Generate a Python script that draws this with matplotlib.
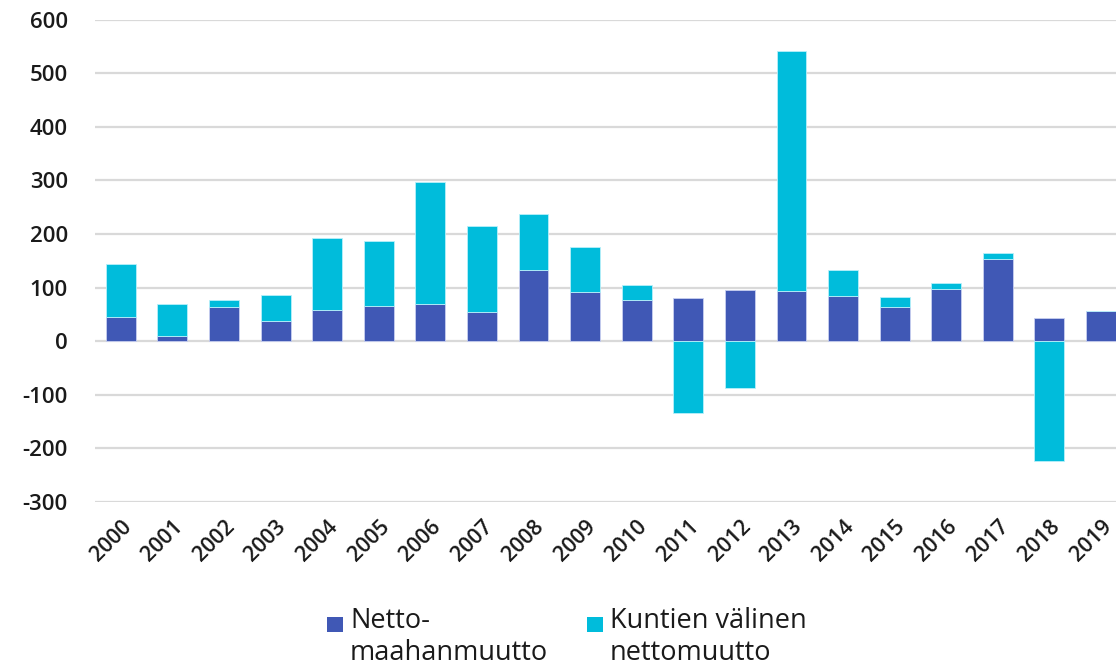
import matplotlib.pyplot as plt
import numpy as np
from matplotlib.patches import Rectangle

years = [str(y) for y in range(2000, 2020)]
netto_maahanmuutto = [46, 10, 64, 38, 58, 66, 69, 54, 133, 91, 77, 80, 96, 94, 85, 63, 97, 153, 44, 57]
kuntien_valinen = [98, 59, 13, 48, 134, 121, 227, 160, 104, 84, 28, -134, -88, 447, 48, 20, 11, 12, -224, 0]
legend_lines = [['Netto-', 'maahanmuutto'], ['Kuntien välinen', 'nettomuutto']]

dark = '#4058b5'
cyan = '#00bcdb'

plt.rcParams['font.family'] = ['Open Sans', 'DejaVu Sans']

W, H = 1116, 672
fig = plt.figure(figsize=(W / 100, H / 100), dpi=100)
ax = fig.add_axes([95 / W, (H - 502) / H, (W - 95) / W, (502 - 19.5) / H])

x = np.arange(len(years))
net = np.array(netto_maahanmuutto)
kv = np.array(kuntien_valinen)
bottom = np.where(kv >= 0, net, 0)

w = 0.58
ax.bar(x, net, width=w, color=dark, edgecolor='#c8cff0', linewidth=0.6, zorder=3)
ax.bar(x, kv, width=w, bottom=bottom, color=cyan, edgecolor='#b8f0fa', linewidth=0.6, zorder=3)

ax.set_ylim(-300, 600)
ax.set_xlim(-0.5, 19 + (1116 - 1101) / 51.65)
ax.set_yticks(range(-300, 601, 100))
ax.yaxis.grid(True, color='#d9d9d9', linewidth=1.6, zorder=0)
ax.set_axisbelow(True)
for s in ax.spines.values():
    s.set_visible(False)
ax.tick_params(length=0)
ax.tick_params(axis='y', pad=19.5)
ax.set_yticklabels([str(v) for v in range(-300, 601, 100)], fontsize=16,
                   fontweight='semibold', color='#1a1a1a')
ax.set_xticks(x)
ax.set_xticklabels(years, rotation=45, ha='right', rotation_mode='anchor',
                   fontsize=15.5, fontweight='semibold', color='#1a1a1a')
ax.tick_params(axis='x', pad=10)

# legend drawn by hand so the squares sit on the first text line
for (sx, tx), color, lines in zip([(327, 350), (587, 610)], [dark, cyan], legend_lines):
    fig.add_artist(Rectangle((sx / W, 1 - 632 / H), 16 / W, 15 / H,
                             transform=fig.transFigure, facecolor=color, edgecolor='none'))
    for yb, line in zip([628, 660], lines):
        fig.text(tx / W, 1 - yb / H, line, fontsize=19.5, color='#1a1a1a', va='baseline')

fig.savefig('out.png', dpi=100)
